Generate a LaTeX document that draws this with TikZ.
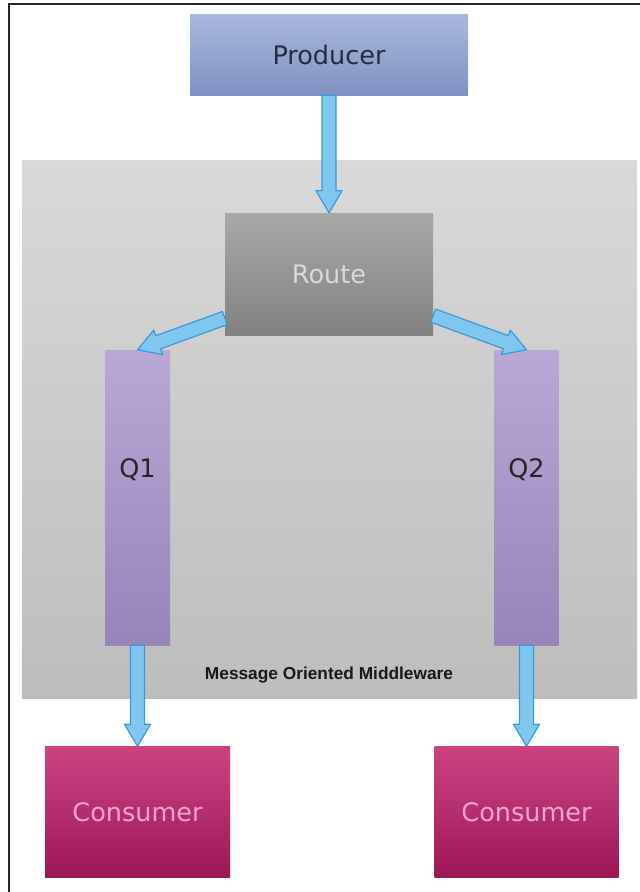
\documentclass[tikz,border=0pt]{standalone}
\usepackage{fontspec}
\setmainfont{DejaVu Sans}
\newfontfamily\captionfont{Liberation Sans}
\usetikzlibrary{calc}

\definecolor{prodtop}{HTML}{A9B8DC}
\definecolor{prodbot}{HTML}{7F92C2}
\definecolor{prodtext}{HTML}{262C40}
\definecolor{momtop}{HTML}{D9D9D9}
\definecolor{mombot}{HTML}{BDBDBD}
\definecolor{routetop}{HTML}{A8A8A8}
\definecolor{routebot}{HTML}{828282}
\definecolor{queuetop}{HTML}{B9A8D6}
\definecolor{queuebot}{HTML}{9784B9}
\definecolor{constop}{HTML}{CC4382}
\definecolor{consbot}{HTML}{9C1756}
\definecolor{constext}{HTML}{F4A6D0}
\definecolor{flowfill}{HTML}{80C7F0}
\definecolor{flowline}{HTML}{3A9AD8}

% block arrow from #1 to #2 (both named coordinates)
\newcommand{\blockflow}[2]{%
  \path (#2) coordinate (tip) ($(#2)!22pt!(#1)$) coordinate (neck);
  \filldraw[flow] ($(#1)!7pt!90:(#2)$) -- ($(neck)!7pt!-90:(#1)$)
    -- ($(neck)!13pt!-90:(#1)$) -- (tip) -- ($(neck)!13pt!90:(#1)$)
    -- ($(neck)!7pt!90:(#1)$) -- ($(#1)!7pt!-90:(#2)$) -- cycle;}

\begin{document}
\begin{tikzpicture}[x=1pt,y=-1pt,
    box/.style={rectangle, inner sep=0pt, font=\fontsize{25.5}{30}\selectfont},
    flow/.style={fill=flowfill, draw=flowline, line width=1.2pt, line join=round}]
    \useasboundingbox (0,0) rectangle (640,892);
    \fill[white] (0,0) rectangle (640,892);
    \draw[line width=2pt, black!85] (9,892) -- (9,4) -- (640,4);

    % middleware area
    \fill[top color=momtop, bottom color=mombot] (22,160) rectangle (637,698);
    \node[font=\captionfont\bfseries\fontsize{17.3}{20}\selectfont, text=black!90] (mom) at (329,675) {Message Oriented Middleware};

    \node[box, top color=prodtop, bottom color=prodbot, text=prodtext, minimum width=278pt, minimum height=81pt] (producer) at (329,54.5) {Producer};
    \node[box, top color=routetop, bottom color=routebot, text=black!15, minimum width=208pt, minimum height=122pt] (route) at (329,274) {Route};
    \node[box, top color=queuetop, bottom color=queuebot, minimum width=65pt, minimum height=295pt] (q1) at (137.5,497.5) {};
    \node[box, top color=queuetop, bottom color=queuebot, minimum width=64pt, minimum height=295pt] (q2) at (526.5,497.5) {};
    \node[box, text=black!85] (q1text) at (137.5,470) {Q1};
    \node[box, text=black!85] (q2text) at (526.5,470) {Q2};
    \node[box, top color=constop, bottom color=consbot, text=constext, minimum width=185pt, minimum height=131pt] (cons1) at (137.5,812) {Consumer};
    \node[box, top color=constop, bottom color=consbot, text=constext, minimum width=184pt, minimum height=131pt] (cons2) at (526.5,812) {Consumer};

    \coordinate (prodout) at (producer.south -| route.north);
    \coordinate (routeleft) at ($(route.west)!0.72!(route.south west)$);
    \coordinate (routeright) at ($(route.east)!0.68!(route.south east)$);

    \blockflow{prodout}{route.north}
    \blockflow{routeleft}{q1.north}
    \blockflow{routeright}{q2.north}
    \blockflow{q1.south}{cons1.north}
    \blockflow{q2.south}{cons2.north}
\end{tikzpicture}
\end{document}
